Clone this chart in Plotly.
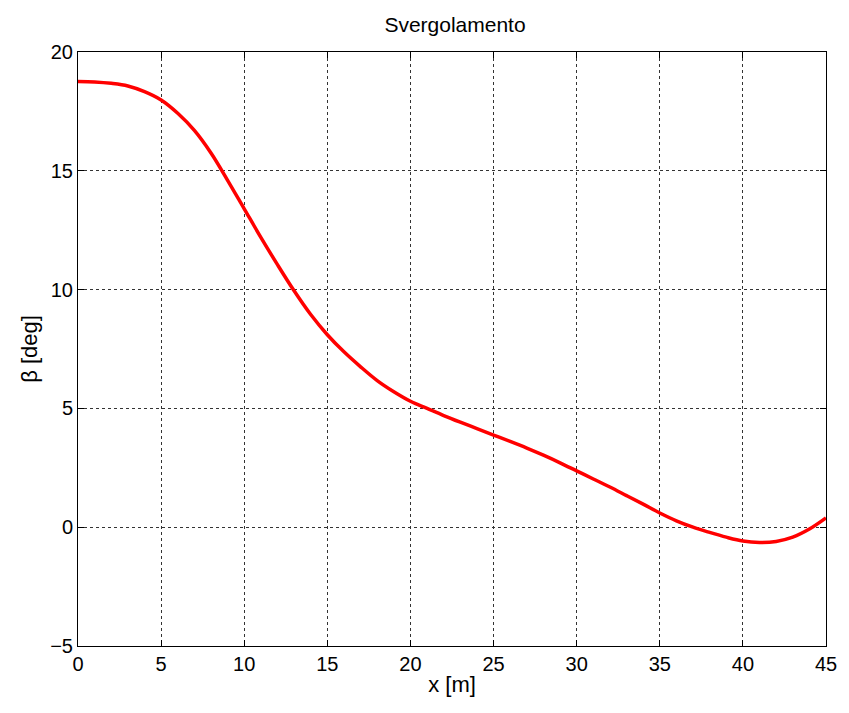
import plotly.graph_objects as go

x_m = list(range(0, 46))
beta_deg = [18.76, 18.74, 18.68, 18.57, 18.33, 17.98, 17.42, 16.7, 15.75, 14.6,
            13.4, 12.2, 11.05, 9.95, 8.95, 8.1, 7.38, 6.75, 6.17, 5.7,
            5.3, 5.0, 4.7, 4.42, 4.15, 3.88, 3.61, 3.33, 3.03, 2.71,
            2.37, 2.03, 1.69, 1.33, 0.97, 0.6, 0.27, 0.0, -0.22, -0.42,
            -0.58, -0.64, -0.6, -0.42, -0.08, 0.39]
x_ticks = [0, 5, 10, 15, 20, 25, 30, 35, 40, 45]
y_ticks = [-5, 0, 5, 10, 15, 20]

fig = go.Figure()
fig.add_trace(go.Scatter(x=x_m, y=beta_deg, mode="lines",
                         line=dict(color="#ff0000", width=3.5, shape="spline", smoothing=1.0),
                         showlegend=False))

FAM = "Liberation Sans, Arial, sans-serif"
tfont = dict(family=FAM, size=20, color="black")
lfont = dict(family=FAM, size=22, color="black")
axis_common = dict(showline=True, linecolor="black", linewidth=1, mirror="ticks",
                   ticks="inside", ticklen=6, tickcolor="black",
                   showgrid=True, gridcolor="#333333", griddash="dot", gridwidth=1,
                   zeroline=False, tickfont=tfont)

fig.update_layout(
    width=849, height=713,
    margin=dict(l=78, r=17, t=52, b=67),
    paper_bgcolor="white", plot_bgcolor="white",
    title=dict(text="Svergolamento", x=(78 + 832) / 2 / 849, xanchor="center",
               y=1 - 25 / 713, yanchor="middle",
               font=dict(family=FAM, size=21, color="black")),
    xaxis=dict(range=[0, 45], tickvals=x_ticks, title=dict(text="x [m]", font=lfont, standoff=2),
               **axis_common),
    yaxis=dict(range=[-5, 20], tickvals=y_ticks, title=dict(text="β [deg]", font=lfont, standoff=6),
               **axis_common),
)

fig.write_html("out.html")
